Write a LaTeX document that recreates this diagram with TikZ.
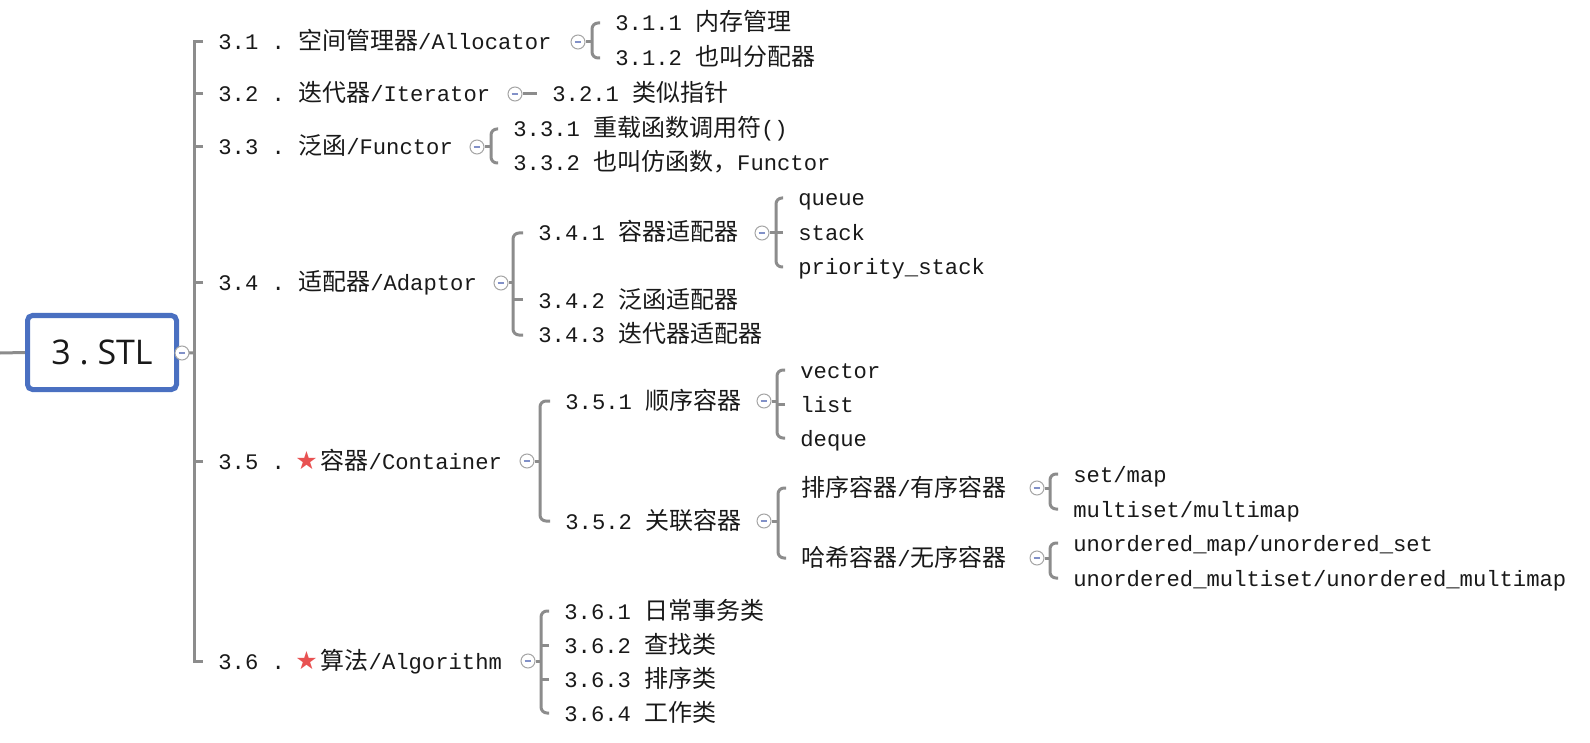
\documentclass[tikz,border=0pt]{standalone}
\usepackage{fontspec}
\setmainfont{Liberation Mono}
\newfontfamily\zhfont{Noto Sans CJK SC}[Scale=1.08]
\newfontfamily\rootfont{Open Sans}
\newfontfamily\symfont{DejaVu Sans}
\usetikzlibrary{positioning,backgrounds}
\definecolor{Frame}{RGB}{74,112,193}
\definecolor{Bar}{RGB}{140,140,140}
\definecolor{Ring}{RGB}{165,165,165}
\definecolor{Dash}{RGB}{130,145,200}
\definecolor{Ink}{RGB}{25,25,25}
\definecolor{Mark}{RGB}{232,82,82}
\newcommand{\zh}[1]{{\zhfont #1}}
\newcommand{\mk}{\kern-1.5pt{\color{Mark}\symfont\fontsize{12.5pt}{13pt}\selectfont ★}\kern1.5pt}

\begin{document}
\frenchspacing
\begin{tikzpicture}[x=.5pt,y=-.5pt,
 tp/.style={anchor=west,inner xsep=7.5pt,inner ysep=1pt,text height=8pt,text depth=0pt,text=Ink,font=\fontsize{11.1pt}{13pt}\selectfont},
 fd/.style={circle,draw=Ring,line width=.5pt,fill=white,minimum size=7pt,inner sep=0pt,
  path picture={\draw[Dash,line width=.8pt] ([xshift=-1.7pt]path picture bounding box.center)--([xshift=1.7pt]path picture bounding box.center);}},
 br/.style={Bar,line width=1.5pt,rounded corners=3pt},
 tk/.style={Bar,line width=1.5pt}]
\useasboundingbox (0,0) rectangle (1590,743);
% root
\coordinate (in) at (0,353);
\node[draw=Frame,line width=2.5pt,rounded corners=2.5pt,minimum width=74.5pt,minimum height=37pt,fill=white,text=Ink,font=\rootfont\fontsize{17pt}{20pt}\selectfont] (root) at (102,352.5) {3 . STL};
\node[fd] (cR) at (182,353) {};
\coordinate (bR) at (194,353);
% first level
\node[tp] (n31) at (203,42) {3.1 . \zh{空间管理器}/Allocator};
\node[tp] (n32) at (203,94) {3.2 . \zh{迭代器}/Iterator};
\node[tp] (n33) at (203,147) {3.3 . \zh{泛函}/Functor};
\node[tp] (n34) at (203,283) {3.4 . \zh{适配器}/Adaptor};
\node[tp] (n35) at (203,461) {3.5 . \mk\zh{容器}/Container};
\node[tp] (n36) at (203,661) {3.6 . \mk\zh{算法}/Algorithm};
% 3.1
\node[fd] (c31) at (578,42) {}; \coordinate (b31) at (592,42);
\node[tp] (n311) at (600,23) {3.1.1 \zh{内存管理}};
\node[tp] (n312) at (600,58) {3.1.2 \zh{也叫分配器}};
% 3.2
\node[fd] (c32) at (515,94) {};
\node[tp] (n321) at (537,94) {3.2.1 \zh{类似指针}};
% 3.3
\node[fd] (c33) at (477,147) {}; \coordinate (b33) at (491,147);
\node[tp] (n331) at (498,129) {3.3.1 \zh{重载函数调用符}()};
\node[tp] (n332) at (498,163) {3.3.2 \zh{也叫仿函数，}Functor};
% 3.4
\node[fd] (c34) at (501,283) {}; \coordinate (b34) at (513,283);
\node[tp] (n341) at (523,233) {3.4.1 \zh{容器适配器}};
\node[tp] (n342) at (523,300) {3.4.2 \zh{泛函适配器}};
\node[tp] (n343) at (523,335) {3.4.3 \zh{迭代器适配器}};
\node[fd] (c341) at (762,233) {}; \coordinate (b341) at (776,233);
\node[tp] (n3411) at (783,198) {queue};
\node[tp] (n3412) at (783,233) {stack};
\node[tp] (n3413) at (783,267) {priority\_stack};
% 3.5
\node[fd] (c35) at (527,461) {}; \coordinate (b35) at (540,461);
\node[tp] (n351) at (550,401) {3.5.1 \zh{顺序容器}};
\node[tp] (n352) at (550,521) {3.5.2 \zh{关联容器}};
\node[fd] (c351) at (764,401) {}; \coordinate (b351) at (777,401);
\node[tp] (n3511) at (785,370) {vector};
\node[tp] (n3512) at (785,404) {list};
\node[tp] (n3513) at (785,438) {deque};
\node[fd] (c352) at (764,521) {}; \coordinate (b352) at (778,521);
\node[tp] (n3521) at (786,488) {\zh{排序容器}/\zh{有序容器}};
\node[tp] (n3522) at (786,558) {\zh{哈希容器}/\zh{无序容器}};
\node[fd] (c3521) at (1037,488) {}; \coordinate (b3521) at (1050,488);
\node[tp] (n35211) at (1058,474) {set/map};
\node[tp] (n35212) at (1058,509) {multiset/multimap};
\node[fd] (c3522) at (1037,558) {}; \coordinate (b3522) at (1050,558);
\node[tp] (n35221) at (1058,543) {unordered\_map/unordered\_set};
\node[tp] (n35222) at (1058,578) {unordered\_multiset/unordered\_multimap};
% 3.6
\node[fd] (c36) at (528,661) {}; \coordinate (b36) at (541,661);
\node[tp] (n361) at (549,611) {3.6.1 \zh{日常事务类}};
\node[tp] (n362) at (549,645) {3.6.2 \zh{查找类}};
\node[tp] (n363) at (549,679) {3.6.3 \zh{排序类}};
\node[tp] (n364) at (549,713) {3.6.4 \zh{工作类}};
% connectors
\begin{scope}[on background layer]
\draw[tk] (in)--(root.west); \draw[tk] (root.east)--(bR);
\draw[tk] (n31.west) -| (bR) |- (n36.west);
\draw[tk] (n32.west)--(n32.west -| bR); \draw[tk] (n33.west)--(n33.west -| bR);
\draw[tk] (n34.west)--(n34.west -| bR); \draw[tk] (n35.west)--(n35.west -| bR);
\draw[br] (c31)--(b31); \draw[br] (n311.west) -| (b31) |- (n312.west);
\draw[br] (c32)--(n321.west);
\draw[br] (c33)--(b33); \draw[br] (n331.west) -| (b33) |- (n332.west);
\draw[br] (c34)--(b34); \draw[br] (n341.west) -| (b34) |- (n343.west);
\draw[br] (n342.west)--(n342.west -| b34);
\draw[br] (c341)--(b341); \draw[br] (n3411.west) -| (b341) |- (n3413.west);
\draw[br] (n3412.west)--(n3412.west -| b341);
\draw[br] (c35)--(b35); \draw[br] (n351.west) -| (b35) |- (n352.west);
\draw[br] (c351)--(b351); \draw[br] (n3511.west) -| (b351) |- (n3513.west);
\draw[br] (n3512.west)--(n3512.west -| b351);
\draw[br] (c352)--(b352); \draw[br] (n3521.west) -| (b352) |- (n3522.west);
\draw[br] (c3521)--(b3521); \draw[br] (n35211.west) -| (b3521) |- (n35212.west);
\draw[br] (c3522)--(b3522); \draw[br] (n35221.west) -| (b3522) |- (n35222.west);
\draw[br] (c36)--(b36); \draw[br] (n361.west) -| (b36) |- (n364.west);
\draw[br] (n362.west)--(n362.west -| b36); \draw[br] (n363.west)--(n363.west -| b36);
\end{scope}
\end{tikzpicture}
\end{document}
